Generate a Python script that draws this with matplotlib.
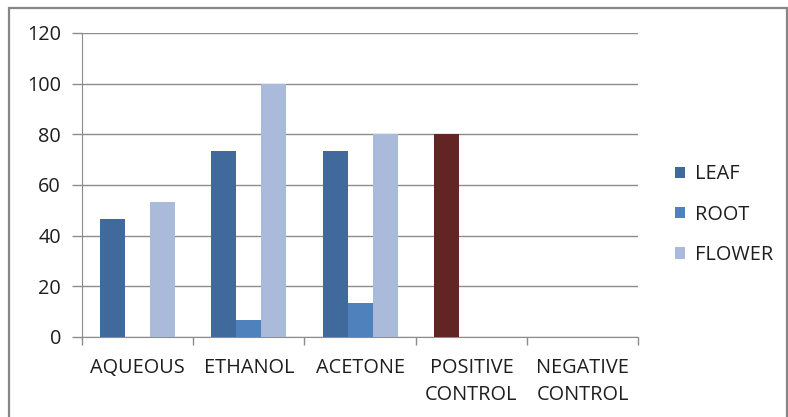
import matplotlib
matplotlib.use("Agg")
import matplotlib.pyplot as plt
import numpy as np
from matplotlib.patches import Patch, Rectangle


CATEGORIES = ["AQUEOUS", "ETHANOL", "ACETONE", "POSITIVE\nCONTROL", "NEGATIVE\nCONTROL"]
SERIES = ["LEAF", "ROOT", "FLOWER"]
LEAF = [46.7, 73.3, 73.3, 80, 0]
ROOT = [0, 6.7, 13.3, 0, 0]
FLOWER = [53.3, 100, 80, 0, 0]

COLORS = {"LEAF": "#416A9C", "ROOT": "#4F81BD", "FLOWER": "#AABADA"}
CONTROL_COLOR = "#632523"
GRID = "#8C8C8C"
TEXT = "#1e1e1e"
FS = 14.3

plt.rcParams["font.family"] = ["Open Sans", "DejaVu Sans"]

fig = plt.figure(figsize=(7.88, 4.17), dpi=100)
ax = fig.add_axes([0.104, 0.192, 0.706, 0.729])

# outer chart frame
fig.patches.append(Rectangle((9 / 788, -0.05), 778 / 788, 1.05 - 8 / 417,
                             transform=fig.transFigure, fill=False,
                             edgecolor="#868686", linewidth=1.6))

x = np.arange(len(CATEGORIES)) + 0.5
width = 0.225
values = {"LEAF": LEAF, "ROOT": ROOT, "FLOWER": FLOWER}
for i, name in enumerate(SERIES):
    colors = [COLORS[name]] * len(CATEGORIES)
    if name == "LEAF":
        colors[3] = CONTROL_COLOR
    ax.bar(x + (i - 1) * width, values[name], width, color=colors,
           zorder=3, linewidth=0)

ax.set_xlim(0, len(CATEGORIES))
ax.set_ylim(0, 120)
ax.set_yticks(range(0, 121, 20))
ax.yaxis.grid(True, color=GRID, linewidth=1, zorder=0)
ax.set_axisbelow(True)

ax.set_xticks(np.arange(len(CATEGORIES) + 1))
ax.set_xticklabels([])
ax.set_xticks(x, minor=True)
ax.set_xticklabels(CATEGORIES, minor=True, fontsize=FS, color=TEXT,
                   linespacing=1.45, va="top")
ax.tick_params(axis="x", which="minor", length=0, pad=15)
ax.tick_params(axis="x", which="major", length=6, color=GRID, width=1)
ax.tick_params(axis="y", length=7, color=GRID, width=1, labelsize=FS,
               labelcolor=TEXT, pad=8)

for side in ["top", "right"]:
    ax.spines[side].set_visible(False)
ax.spines["left"].set_color(GRID)
ax.spines["bottom"].set_color(GRID)

handles = [Patch(facecolor=COLORS[n], edgecolor="none") for n in SERIES]
leg = fig.legend(handles, SERIES, loc="center left", bbox_to_anchor=(0.834, 0.485),
                 frameon=False, fontsize=FS, handlelength=0.5, handleheight=0.5,
                 handletextpad=0.5, labelspacing=1.02)
for t in leg.get_texts():
    t.set_color(TEXT)

fig.savefig("out.png", dpi=100)
